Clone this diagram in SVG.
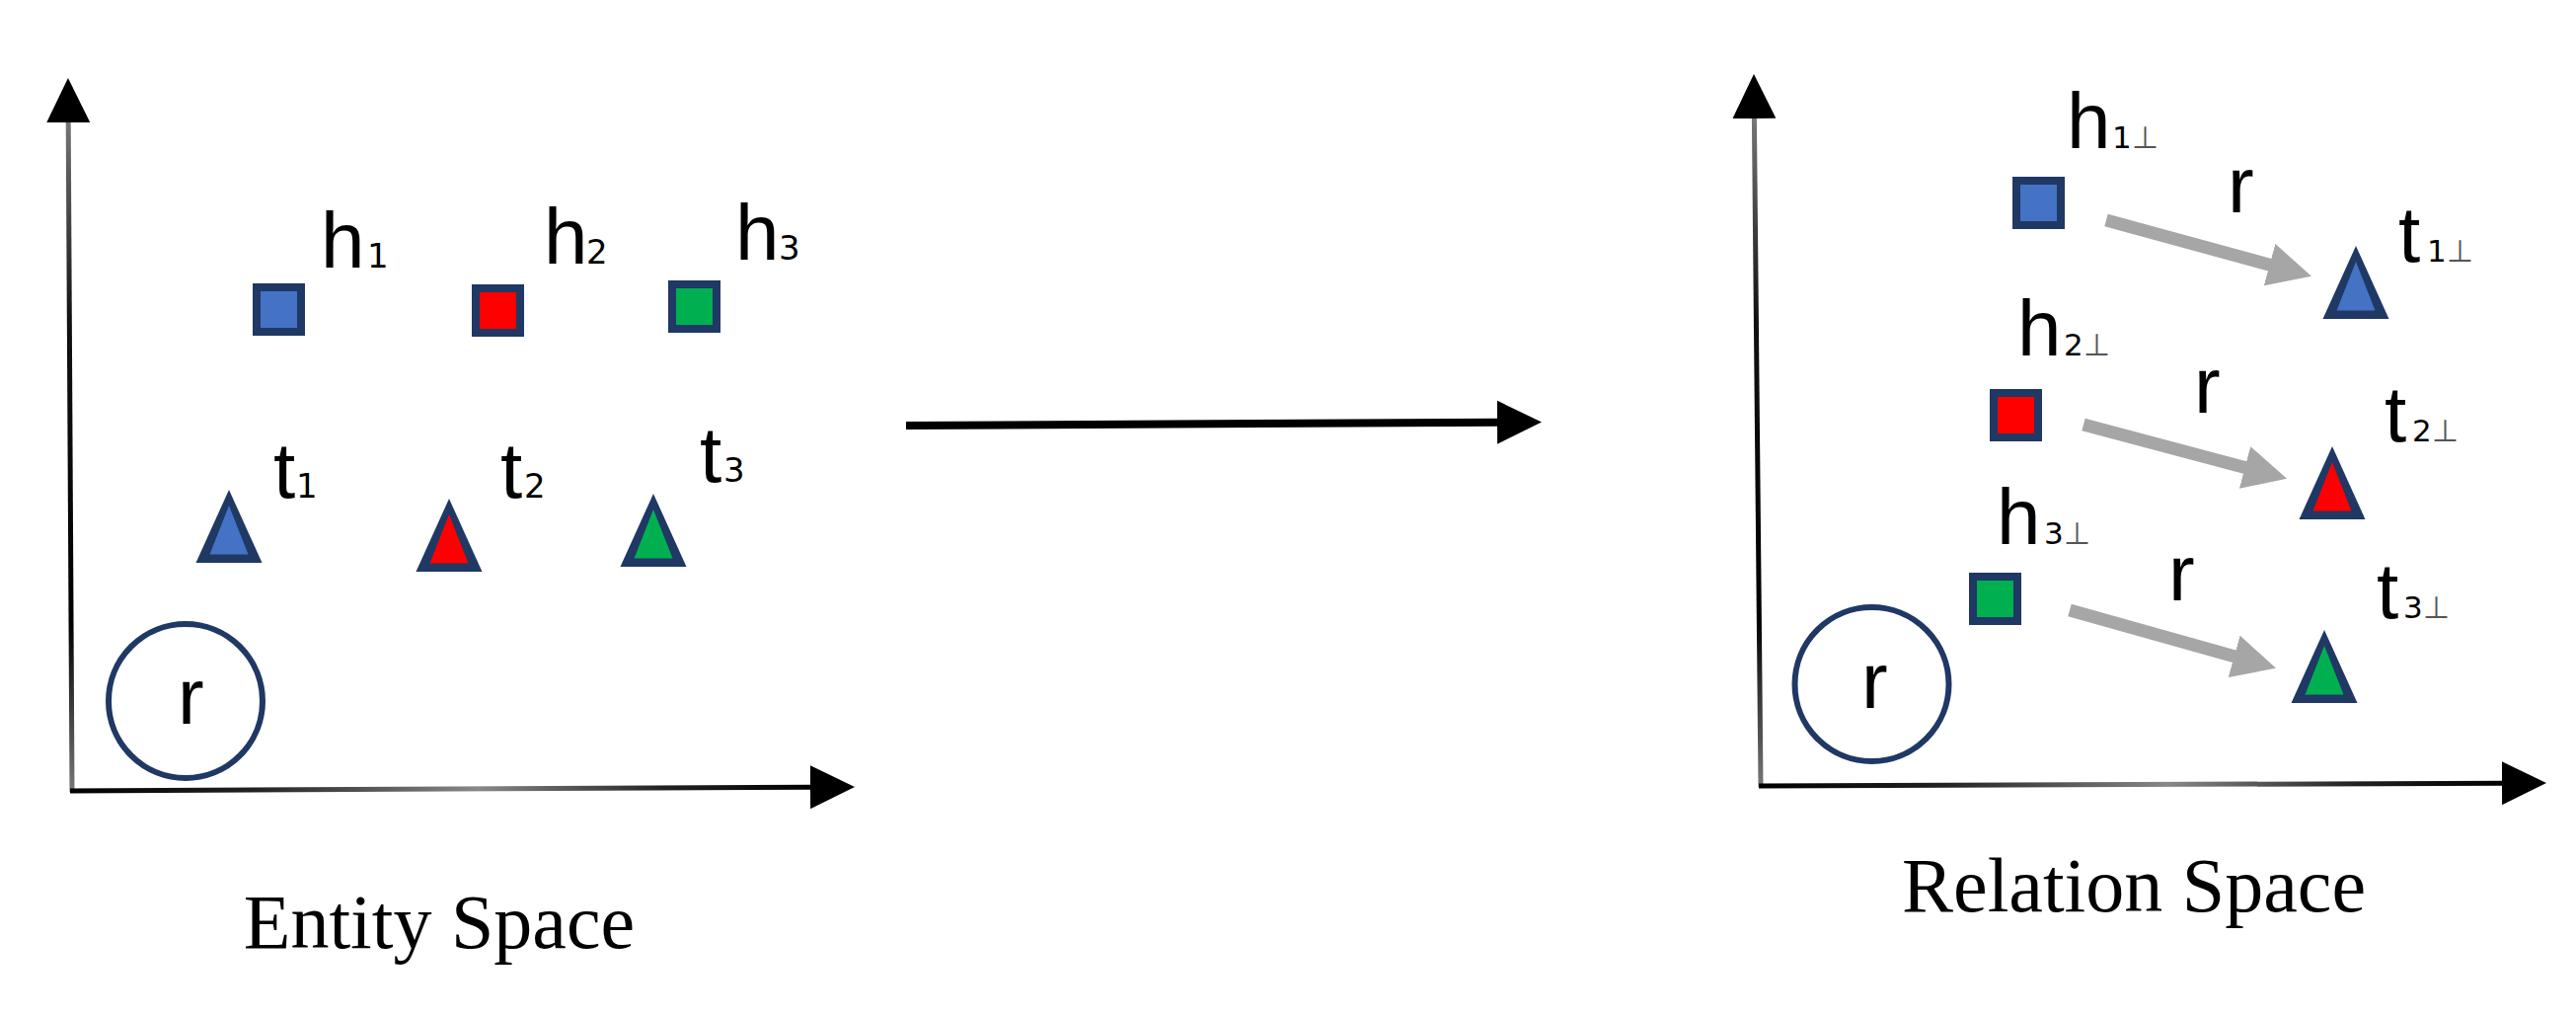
<svg xmlns="http://www.w3.org/2000/svg" xmlns:xlink="http://www.w3.org/1999/xlink" width="2610" height="1030" viewBox="0 0 2610 1030">
<style>
.lbl{font-family:"Liberation Sans",Arial,sans-serif;font-size:80px;fill:#000}
.sub{font-family:"DejaVu Sans",sans-serif;font-size:34px}
.subr{font-family:"DejaVu Sans",sans-serif;font-size:31px}
.perp{fill:#555}
.cap{font-family:"Liberation Serif","Times New Roman",serif;font-size:78px;fill:#000;text-anchor:middle}
.sq{stroke:#1F3864;stroke-width:8}
.ring{fill:none;stroke:#1F3864;stroke-width:6}
.gray{stroke:#A6A6A6;stroke-width:13;fill:none}
.axis{stroke-width:5;fill:none}
.blue{fill:#4472C4}.red{fill:#FF0000}.green{fill:#00B050}
</style>
<defs>
<marker id="axHead" viewBox="0 0 45 44" markerWidth="45" markerHeight="44" markerUnits="userSpaceOnUse" refX="1" refY="22" orient="auto">
<path d="M0,0 L45,22 L0,44 z" fill="#000"/>
</marker>
<marker id="grHead" viewBox="0 0 44 44" markerWidth="44" markerHeight="44" markerUnits="userSpaceOnUse" refX="1" refY="22" orient="auto">
<path d="M0,0 L44,22 L0,44 z" fill="#A6A6A6"/>
</marker>
<linearGradient id="gyL" gradientUnits="userSpaceOnUse" x1="0" y1="120" x2="0" y2="802">
<stop offset="0" stop-color="#777"/><stop offset="0.3" stop-color="#111"/><stop offset="0.75" stop-color="#000"/><stop offset="1" stop-color="#777"/>
</linearGradient>
<linearGradient id="gyR" gradientUnits="userSpaceOnUse" x1="0" y1="118" x2="0" y2="797">
<stop offset="0" stop-color="#777"/><stop offset="0.3" stop-color="#111"/><stop offset="0.75" stop-color="#000"/><stop offset="1" stop-color="#777"/>
</linearGradient>
<linearGradient id="gxL" gradientUnits="userSpaceOnUse" x1="71" y1="0" x2="822" y2="0">
<stop offset="0" stop-color="#000"/><stop offset="0.25" stop-color="#222"/><stop offset="0.55" stop-color="#888"/><stop offset="0.8" stop-color="#222"/><stop offset="1" stop-color="#000"/>
</linearGradient>
<linearGradient id="gxR" gradientUnits="userSpaceOnUse" x1="1782" y1="0" x2="2536" y2="0">
<stop offset="0" stop-color="#000"/><stop offset="0.25" stop-color="#222"/><stop offset="0.55" stop-color="#888"/><stop offset="0.8" stop-color="#222"/><stop offset="1" stop-color="#000"/>
</linearGradient>
<polygon id="triOut" points="0,0 -33.5,74 33.5,74" fill="#1F3864"/>
<polygon id="triIn" points="0,16 -19.5,65.5 19.5,65.5"/>
</defs>

<g id="connectors">
<line id="left-y-axis" class="axis" stroke="url(#gyL)" x1="73" y1="802" x2="69.2" y2="123" marker-end="url(#axHead)"/>
<line id="left-x-axis" class="axis" stroke="url(#gxL)" x1="71" y1="801" x2="822" y2="797.2" marker-end="url(#axHead)"/>
<line id="right-y-axis" class="axis" stroke="url(#gyR)" x1="1784" y1="797" x2="1777.4" y2="119" marker-end="url(#axHead)"/>
<line id="right-x-axis" class="axis" stroke="url(#gxR)" x1="1782" y1="796" x2="2536" y2="793.2" marker-end="url(#axHead)"/>
<line id="transform-arrow" stroke="#000" stroke-width="8" x1="918" y1="431" x2="1518" y2="427.7" marker-end="url(#axHead)"/>
<line id="r-arrow-1" class="gray" x1="2134" y1="223" x2="2300.5" y2="268.4" marker-end="url(#grHead)"/>
<line id="r-arrow-2" class="gray" x1="2111" y1="430" x2="2275.5" y2="473.7" marker-end="url(#grHead)"/>
<line id="r-arrow-3" class="gray" x1="2097" y1="618" x2="2264.6" y2="665.1" marker-end="url(#grHead)"/>
</g>

<g id="entity-r"><circle class="ring" cx="188" cy="710" r="78"/><text class="lbl" x="180" y="733">r</text></g>
<g id="h1"><rect class="sq blue" x="260" y="291" width="45" height="45"/><text class="lbl" x="325" y="271">h<tspan class="sub" x="372">1</tspan></text></g>
<g id="h2"><rect class="sq red" x="482" y="292" width="45" height="45"/><text class="lbl" x="551" y="267">h<tspan class="sub" x="594">2</tspan></text></g>
<g id="h3"><rect class="sq green" x="681" y="288" width="45" height="45"/><text class="lbl" x="745" y="263">h<tspan class="sub" x="789">3</tspan></text></g>
<g id="t1"><use xlink:href="#triOut" x="232" y="496"/><use xlink:href="#triIn" class="blue" x="232" y="496"/><text class="lbl" x="277" y="504">t<tspan class="sub" x="300">1</tspan></text></g>
<g id="t2"><use xlink:href="#triOut" x="455" y="505"/><use xlink:href="#triIn" class="red" x="455" y="505"/><text class="lbl" x="507" y="504">t<tspan class="sub" x="531">2</tspan></text></g>
<g id="t3"><use xlink:href="#triOut" x="662" y="500"/><use xlink:href="#triIn" class="green" x="662" y="500"/><text class="lbl" x="709" y="488">t<tspan class="sub" x="733">3</tspan></text></g>
<g id="entity-space-label"><text class="cap" x="445" y="960">Entity Space</text></g>

<g id="relation-r"><circle class="ring" cx="1896.5" cy="693" r="78"/><text class="lbl" x="1886" y="717">r</text></g>
<g id="h1p"><rect class="sq blue" x="2043" y="183" width="45" height="45"/><text class="lbl" x="2094" y="150">h<tspan class="subr" x="2140">1</tspan><tspan class="subr perp">⊥</tspan></text></g>
<g id="h2p"><rect class="sq red" x="2020" y="398" width="45" height="45"/><text class="lbl" x="2044" y="360">h<tspan class="subr" x="2091">2</tspan><tspan class="subr perp">⊥</tspan></text></g>
<g id="h3p"><rect class="sq green" x="1999" y="584" width="45" height="45"/><text class="lbl" x="2023" y="551">h<tspan class="subr" x="2071">3</tspan><tspan class="subr perp">⊥</tspan></text></g>
<g id="t1p"><use xlink:href="#triOut" x="2387" y="249"/><use xlink:href="#triIn" class="blue" x="2387" y="249"/><text class="lbl" x="2430" y="265">t<tspan class="subr" x="2459">1</tspan><tspan class="subr perp">⊥</tspan></text></g>
<g id="t2p"><use xlink:href="#triOut" x="2363" y="452"/><use xlink:href="#triIn" class="red" x="2363" y="452"/><text class="lbl" x="2416" y="447">t<tspan class="subr" x="2444">2</tspan><tspan class="subr perp">⊥</tspan></text></g>
<g id="t3p"><use xlink:href="#triOut" x="2355" y="638"/><use xlink:href="#triIn" class="green" x="2355" y="638"/><text class="lbl" x="2408" y="626">t<tspan class="subr" x="2435">3</tspan><tspan class="subr perp">⊥</tspan></text></g>
<g id="r-labels"><text class="lbl" x="2257" y="215">r</text><text class="lbl" x="2223" y="418">r</text><text class="lbl" x="2197" y="608">r</text></g>
<g id="relation-space-label"><text class="cap" x="2162" y="923">Relation Space</text></g>
</svg>
